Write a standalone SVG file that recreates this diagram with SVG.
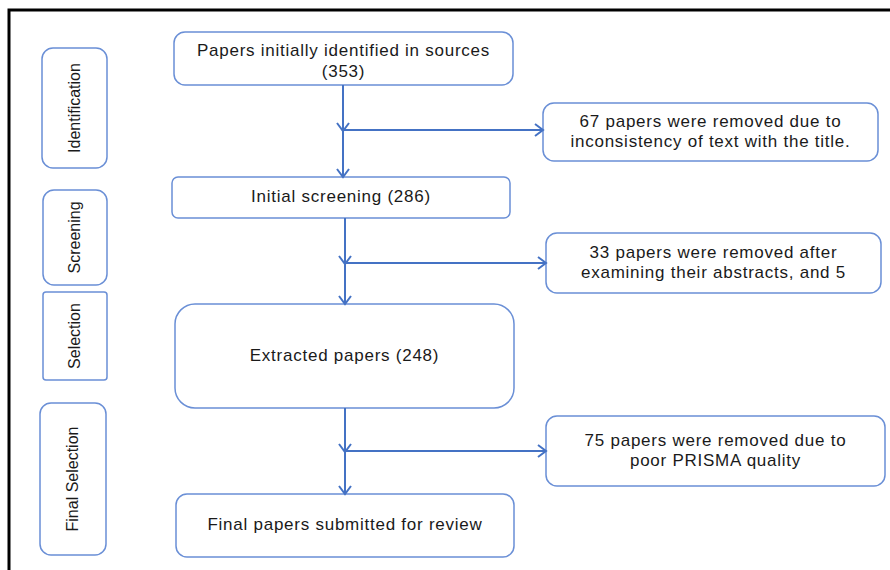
<svg xmlns="http://www.w3.org/2000/svg" width="890" height="570" viewBox="0 0 890 570">
<style>
.box{fill:#fff;stroke:#6a8fd6;stroke-width:1.5}
.t{font-family:"Liberation Sans",Arial,sans-serif;font-size:17px;letter-spacing:0.75px;fill:#1a1a1a;text-anchor:middle}
.s{font-family:"Liberation Sans",Arial,sans-serif;font-size:16px;fill:#1a1a1a;text-anchor:middle}
.c{fill:none;stroke:#4472c4;stroke-width:2}
</style>
<defs>
<marker id="ah" markerWidth="14" markerHeight="14" refX="10" refY="7" orient="auto" markerUnits="userSpaceOnUse">
<path d="M2,1 L10,7 L2,13" fill="none" stroke="#4472c4" stroke-width="2"/>
</marker>
</defs>
<rect width="890" height="570" fill="#fff"/>
<path d="M9,570 V10 H890" fill="none" stroke="#000" stroke-width="3"/>

<g id="lbl-identification">
<rect class="box" x="42" y="48" width="65" height="120" rx="11"/>
<text class="s" transform="translate(80,108) rotate(-90)">Identification</text>
</g>
<g id="lbl-screening">
<rect class="box" x="43" y="190" width="64" height="95" rx="11"/>
<text class="s" transform="translate(80,237.5) rotate(-90)">Screening</text>
</g>
<g id="lbl-selection">
<rect class="box" x="43" y="292" width="64" height="88" rx="3"/>
<text class="s" transform="translate(80,336) rotate(-90)">Selection</text>
</g>
<g id="lbl-final">
<rect class="box" x="40" y="403" width="66" height="152" rx="11"/>
<text class="s" transform="translate(78,479) rotate(-90)">Final Selection</text>
</g>

<g id="n-identified">
<rect class="box" x="174" y="32" width="339" height="53" rx="11"/>
<text class="t" x="343.5" y="56">Papers initially identified in sources</text>
<text class="t" x="343.5" y="77">(353)</text>
</g>
<g id="n-removed1">
<rect class="box" x="543" y="103" width="335" height="58" rx="11"/>
<text class="t" x="710.5" y="127">67 papers were removed due to</text>
<text class="t" x="710.5" y="147">inconsistency of text with the title.</text>
</g>
<g id="n-screening">
<rect class="box" x="172" y="177" width="338" height="41" rx="6"/>
<text class="t" x="341" y="202">Initial screening (286)</text>
</g>
<g id="n-removed2">
<rect class="box" x="546" y="233" width="335" height="60" rx="11"/>
<text class="t" x="713.5" y="258">33 papers were removed after</text>
<text class="t" x="713.5" y="278">examining their abstracts, and 5</text>
</g>
<g id="n-extracted">
<rect class="box" x="175" y="304" width="339" height="104" rx="20"/>
<text class="t" x="344.5" y="361">Extracted papers (248)</text>
</g>
<g id="n-removed3">
<rect class="box" x="546" y="416" width="339" height="70" rx="11"/>
<text class="t" x="715.5" y="446">75 papers were removed due to</text>
<text class="t" x="715.5" y="466">poor PRISMA quality</text>
</g>
<g id="n-final">
<rect class="box" x="176" y="494" width="338" height="63" rx="11"/>
<text class="t" x="345" y="530">Final papers submitted for review</text>
</g>

<g id="connectors">
<line class="c" x1="343" y1="85" x2="343" y2="131" marker-end="url(#ah)"/>
<line class="c" x1="343" y1="130" x2="343" y2="177" marker-end="url(#ah)"/>
<line class="c" x1="343" y1="130" x2="543" y2="130" marker-end="url(#ah)"/>
<line class="c" x1="345" y1="218" x2="345" y2="264" marker-end="url(#ah)"/>
<line class="c" x1="345" y1="263" x2="345" y2="304" marker-end="url(#ah)"/>
<line class="c" x1="345" y1="263" x2="546" y2="263" marker-end="url(#ah)"/>
<line class="c" x1="345" y1="408" x2="345" y2="452" marker-end="url(#ah)"/>
<line class="c" x1="345" y1="451" x2="345" y2="494" marker-end="url(#ah)"/>
<line class="c" x1="345" y1="451" x2="546" y2="451" marker-end="url(#ah)"/>
</g>
</svg>
